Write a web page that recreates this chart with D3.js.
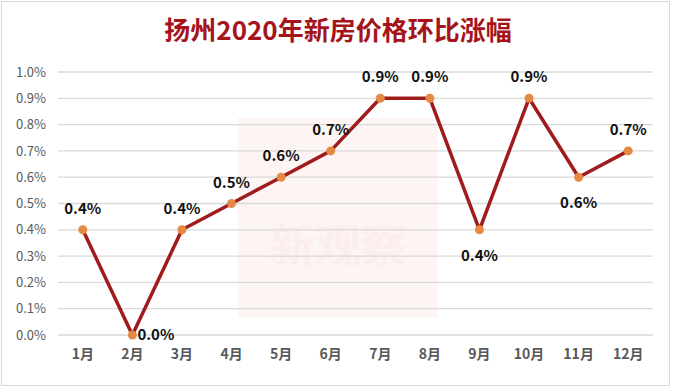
<!DOCTYPE html>
<html>
<head>
<meta charset="utf-8">
<script src="https://cdn.jsdelivr.net/npm/d3@7"></script>
<style>
body { margin: 0; background: #fff; }
</style>
</head>
<body>
<script>
var months = ["1月", "2月", "3月", "4月", "5月", "6月", "7月", "8月", "9月", "10月", "11月", "12月"];
var values = [0.4, 0.0, 0.4, 0.5, 0.6, 0.7, 0.9, 0.9, 0.4, 0.9, 0.6, 0.7];
// where each value label sits relative to its point
var labelPos = ["top", "right", "top", "top", "top", "top", "top", "top", "bottom", "top", "bottom", "top"];
var yTicks = [0, 0.1, 0.2, 0.3, 0.4, 0.5, 0.6, 0.7, 0.8, 0.9, 1.0];

var w = 676;
var h = 388;
var font = "'Noto Sans CJK SC', 'Open Sans', sans-serif";

var svg = d3.select("body")
    .append("svg")
    .attr("width", w)
    .attr("height", h);

// frame
svg.append("rect")
    .attr("x", 1.5).attr("y", 1.5)
    .attr("width", w - 8).attr("height", h - 4)
    .attr("fill", "#fff")
    .attr("stroke", "#d9d9d9")
    .attr("stroke-width", 1);

var x = d3.scaleBand()
    .domain(months)
    .range([58, 653]);

var y = d3.scaleLinear()
    .domain([0, 1.0])
    .range([335, 72]);

// watermark
svg.append("rect")
    .attr("x", 238).attr("y", 118)
    .attr("width", 200).attr("height", 200)
    .attr("fill", "#c0392b")
    .attr("opacity", 0.05);
svg.append("text")
    .attr("x", 338).attr("y", 262)
    .attr("text-anchor", "middle")
    .attr("font-family", font)
    .attr("font-size", 46)
    .attr("font-weight", "bold")
    .attr("fill", "#fbeeec")
    .text("新观察");

// gridlines
svg.selectAll("line.grid")
    .data(yTicks)
    .enter()
    .append("line")
    .attr("class", "grid")
    .attr("x1", 58).attr("x2", 653)
    .attr("y1", function (d) { return y(d); })
    .attr("y2", function (d) { return y(d); })
    .attr("stroke", "#d9d9d9")
    .attr("stroke-width", 1.3);

// y axis labels
var yAxis = d3.axisLeft(y)
    .tickValues(yTicks)
    .tickSize(0)
    .tickPadding(12)
    .tickFormat(function (d) { return d.toFixed(1) + "%"; });

svg.append("g")
    .attr("transform", "translate(58,0)")
    .call(yAxis)
    .call(function (g) { g.select(".domain").remove(); })
    .selectAll("text")
    .attr("font-family", font)
    .attr("font-size", 13)
    .attr("fill", "#595959");

// x axis labels
var xAxis = d3.axisBottom(x)
    .tickSize(0)
    .tickPadding(14);

svg.append("g")
    .attr("transform", "translate(0,335)")
    .call(xAxis)
    .call(function (g) { g.select(".domain").remove(); })
    .selectAll("text")
    .attr("font-family", font)
    .attr("font-size", 14)
    .attr("font-weight", "bold")
    .attr("fill", "#595959");

var cx = function (d, i) { return x(months[i]) + x.bandwidth() / 2; };

// line
var line = d3.line()
    .x(cx)
    .y(function (d) { return y(d); });

svg.append("path")
    .datum(values)
    .attr("d", line)
    .attr("fill", "none")
    .attr("stroke", "#a01b1b")
    .attr("stroke-width", 3.5)
    .attr("stroke-linejoin", "round");

// markers
svg.selectAll("circle.pt")
    .data(values)
    .enter()
    .append("circle")
    .attr("class", "pt")
    .attr("cx", cx)
    .attr("cy", function (d) { return y(d); })
    .attr("r", 4.5)
    .attr("fill", "#e58a45");

// value labels
svg.selectAll("text.val")
    .data(values)
    .enter()
    .append("text")
    .attr("class", "val")
    .attr("x", function (d, i) {
        return labelPos[i] == "right" ? cx(d, i) + 5 : cx(d, i);
    })
    .attr("y", function (d, i) {
        if (labelPos[i] == "top") return y(d) - 16;
        if (labelPos[i] == "bottom") return y(d) + 31;
        return y(d) + 5;
    })
    .attr("text-anchor", function (d, i) {
        return labelPos[i] == "right" ? "start" : "middle";
    })
    .attr("font-family", font)
    .attr("font-size", 15)
    .attr("font-weight", "bold")
    .attr("fill", "#111")
    .text(function (d) { return d.toFixed(1) + "%"; });

// title
svg.append("text")
    .attr("x", 338)
    .attr("y", 40)
    .attr("text-anchor", "middle")
    .attr("font-family", font)
    .attr("font-size", 26)
    .attr("font-weight", "bold")
    .attr("fill", "#a5141b")
    .text("扬州2020年新房价格环比涨幅");
</script>
</body>
</html>
